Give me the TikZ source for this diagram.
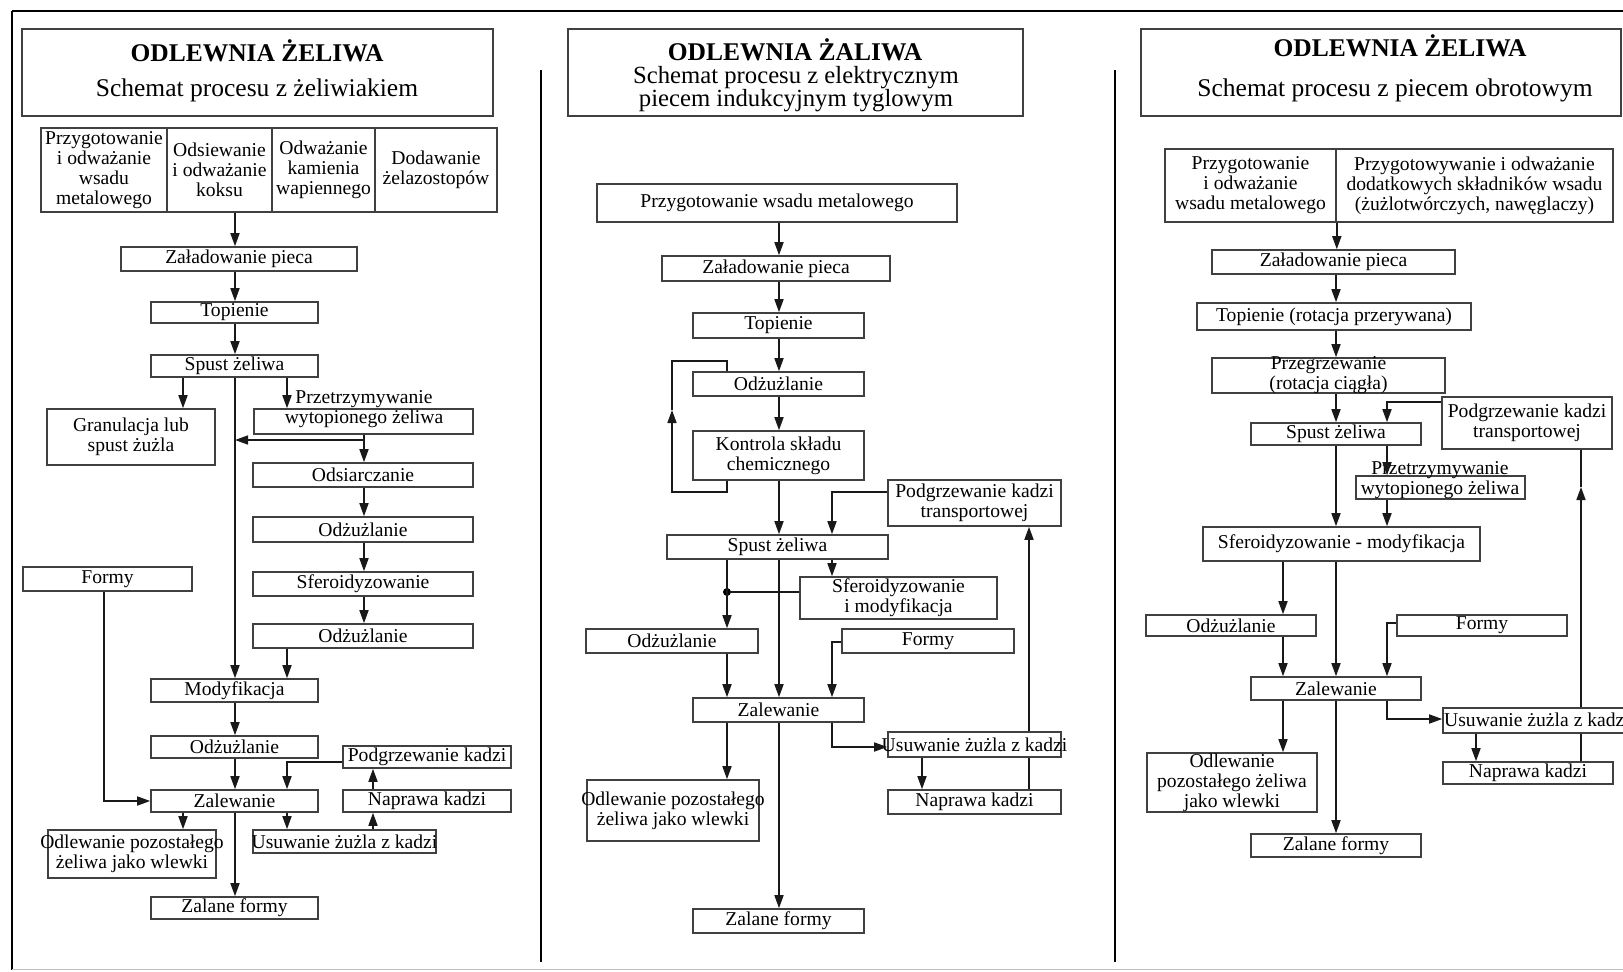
\documentclass[tikz,border=0pt]{standalone}
\usepackage{fontspec}
\setmainfont{Liberation Serif}
\usetikzlibrary{arrows.meta}

% empty framed box from its corners (x1,y1)-(x2,y2)
\newcommand\ebx[5]{\node[box,minimum width={(#4-#2)*1pt},minimum height={(#5-#3)*1pt}] (#1) at ({(#2+#4)/2},{(#3+#5)/2}) {};}
% framed box with centred text
\newcommand\fbx[6]{\ebx{#1}{#2}{#3}{#4}{#5}\node[txt] (#1t) at (#1.center) {#6};}

\begin{document}
\begin{tikzpicture}[x=1pt,y=-1pt,
  box/.style={draw=black!75, line width=1.6pt, fill=white, inner sep=0pt, rectangle},
  txt/.style={inner sep=0pt, align=center, font=\fontsize{19.6}{20}\selectfont},
  ttl/.style={inner sep=0pt, align=center, font=\fontsize{25.5}{27}\selectfont\bfseries},
  sub/.style={inner sep=0pt, align=center, font=\fontsize{25.5}{27}\selectfont},
  subm/.style={inner sep=0pt, align=center, font=\fontsize{24.7}{20.5}\selectfont},
  flow/.style={draw=black!90, line width=1.6pt},
  arr/.style={flow, -{Triangle[length=13pt,width=9pt]}},
  dot/.style={circle, fill=black, inner sep=0pt, minimum size=8pt},
  frame/.style={draw=black, line width=2.6pt}]
\useasboundingbox (0,0) rectangle (1623,972);
\fill[white] (0,0) rectangle (1623,972);

% outer frame and column dividers
\draw[frame] (12,11) -- (1623,11);
\draw[frame] (12,11) -- (12,970);
\draw[draw=black!25, line width=1pt] (12,969) -- (1623,969);
\draw[frame] (541,70) -- (541,962);
\draw[frame] (1115,70) -- (1115,962);

% ===================== cupola furnace =====================
\ebx{Lhead}{22}{29}{493}{116}
\node[ttl] (Lt1) at (257,51) {ODLEWNIA ŻELIWA};
\node[sub] (Lt2) at (257,90) {Schemat procesu z żeliwiakiem};

\fbx{La}{41}{128}{167}{212}{Przygotowanie\\i odważanie\\wsadu\\metalowego}
\fbx{Lb}{167}{128}{272}{212}{Odsiewanie\\i odważanie\\koksu}
\fbx{Lc}{272}{128}{375}{212}{Odważanie\\kamienia\\wapiennego}
\fbx{Ld}{375}{128}{497}{212}{Dodawanie\\żelazostopów}

\fbx{Lzal}{121}{247}{357}{271}{Załadowanie pieca}
\fbx{Ltop}{151}{302}{318}{323}{Topienie}
\fbx{Lspu}{151}{355}{318}{377}{Spust żeliwa}
\fbx{Lgra}{47}{409}{215}{465}{Granulacja lub\\spust żużla}
\ebx{Lprz}{254}{409}{473}{434}
\node[txt] (Lprzt) at (364,409) {Przetrzymywanie\\wytopionego żeliwa};
\fbx{Lods}{253}{463}{473}{487}{Odsiarczanie}
\fbx{Lodz1}{253}{517}{473}{542}{Odżużlanie}
\fbx{Lsfe}{253}{572}{473}{596}{Sferoidyzowanie}
\fbx{Lodz2}{253}{624}{473}{648}{Odżużlanie}
\fbx{Lfor}{23}{567}{192}{591}{Formy}
\fbx{Lmod}{151}{679}{318}{702}{Modyfikacja}
\fbx{Lodz3}{151}{736}{318}{758}{Odżużlanie}
\fbx{Lzlw}{151}{790}{318}{812}{Zalewanie}
\fbx{Lpod}{343}{746}{511}{768}{Podgrzewanie kadzi}
\fbx{Lnap}{343}{790}{511}{812}{Naprawa kadzi}
\fbx{Lusu}{253}{830}{436}{853}{Usuwanie żużla z kadzi}
\fbx{Lodl}{48}{830}{216}{878}{Odlewanie pozostałego\\żeliwa jako wlewki}
\fbx{Lzf}{151}{897}{318}{919}{Zalane formy}

\coordinate (Lj) at (364,440);
\coordinate (Lm) at (235,440);

\draw[arr] (Lb.south -| 235,0) -- (Lzal.north -| 235,0);
\draw[arr] (Lzal.south -| 235,0) -- (Ltop.north -| 235,0);
\draw[arr] (Ltop.south -| 235,0) -- (Lspu.north -| 235,0);
\draw[arr] (Lspu.south -| 183,0) -- (Lgra.north -| 183,0);
\draw[arr] (Lspu.south -| 287,0) -- (Lprz.north -| 287,0);
\draw[arr] (Lspu.south -| 235,0) -- (Lmod.north -| 235,0);
\draw[arr] (Lprz.south -| 364,0) -- (Lods.north -| 364,0);
\draw[arr] (Lj) -- (Lm);
\draw[arr] (Lods.south -| 364,0) -- (Lodz1.north -| 364,0);
\draw[arr] (Lodz1.south -| 364,0) -- (Lsfe.north -| 364,0);
\draw[arr] (Lsfe.south -| 364,0) -- (Lodz2.north -| 364,0);
\draw[arr] (Lodz2.south -| 287,0) -- (Lmod.north -| 287,0);
\draw[arr] (Lmod.south -| 235,0) -- (Lodz3.north -| 235,0);
\draw[arr] (Lodz3.south -| 235,0) -- (Lzlw.north -| 235,0);
\draw[arr] (Lfor.south -| 104,0) |- (Lzlw.west);
\draw[arr] (Lpod.west |- 0,762) -| (Lzlw.north -| 287,0);
\draw[arr] (Lnap.north -| 373,0) -- (Lpod.south -| 373,0);
\draw[arr] (Lusu.north -| 373,0) -- (Lnap.south -| 373,0);
\draw[arr] (Lzlw.south -| 183,0) -- (Lodl.north -| 183,0);
\draw[arr] (Lzlw.south -| 287,0) -- (Lusu.north -| 287,0);
\draw[arr] (Lzlw.south -| 235,0) -- (Lzf.north -| 235,0);

% ===================== induction crucible furnace =====================
\ebx{Mhead}{568}{29}{1023}{116}
\node[ttl] (Mt1) at (795,50) {ODLEWNIA ŻALIWA};
\node[subm] (Mt2) at (796,89) {Schemat procesu z elektrycznym\\piecem indukcyjnym tyglowym};

\fbx{Mprz}{597}{184}{957}{222}{Przygotowanie wsadu metalowego}
\fbx{Mzal}{662}{256}{890}{281}{Załadowanie pieca}
\fbx{Mtop}{693}{313}{864}{338}{Topienie}
\fbx{Modz1}{693}{372}{864}{396}{Odżużlanie}
\fbx{Mkon}{693}{431}{864}{480}{Kontrola składu\\chemicznego}
\fbx{Mspu}{667}{535}{888}{559}{Spust żeliwa}
\fbx{Mpod}{888}{480}{1061}{526}{Podgrzewanie kadzi\\transportowej}
\fbx{Msfe}{800}{577}{997}{619}{Sferoidyzowanie\\i modyfikacja}
\fbx{Modz2}{586}{629}{758}{653}{Odżużlanie}
\fbx{Mfor}{842}{629}{1014}{653}{Formy}
\fbx{Mzlw}{693}{698}{864}{722}{Zalewanie}
\fbx{Modl}{587}{780}{759}{841}{Odlewanie pozostałego\\żeliwa jako wlewki}
\fbx{Musu}{888}{732}{1061}{757}{Usuwanie żużla z kadzi}
\fbx{Mnap}{888}{790}{1061}{814}{Naprawa kadzi}
\fbx{Mzf}{693}{909}{864}{933}{Zalane formy}

\coordinate (Mla) at (672,492);
\coordinate (Mlb) at (672,410);
\coordinate (Mlc) at (672,361);
\node[dot] (Mdot) at (727,592) {};

\draw[arr] (Mprz.south -| 779,0) -- (Mzal.north -| 779,0);
\draw[arr] (Mzal.south -| 779,0) -- (Mtop.north -| 779,0);
\draw[arr] (Mtop.south -| 779,0) -- (Modz1.north -| 779,0);
\draw[arr] (Modz1.south -| 779,0) -- (Mkon.north -| 779,0);
\draw[arr] (Mkon.south -| 779,0) -- (Mspu.north -| 779,0);
\draw[arr] (Mkon.south -| 727,0) |- (Mla) -- (Mlb);
\draw[flow] (Mlb) -- (Mlc) -| (Modz1.north -| 727,0);
\draw[arr] (Mpod.west |- 0,492) -| (Mspu.north -| 832,0);
\draw[arr] (Mspu.south -| 832,0) -- (Msfe.north -| 832,0);
\draw[arr] (Mspu.south -| 727,0) -- (Modz2.north -| 727,0);
\draw[flow] (Mdot) -- (Msfe.west |- Mdot);
\draw[arr] (Mspu.south -| 779,0) -- (Mzlw.north -| 779,0);
\draw[arr] (Mfor.west |- 0,642) -| (Mzlw.north -| 832,0);
\draw[arr] (Modz2.south -| 727,0) -- (Mzlw.north -| 727,0);
\draw[arr] (Mzlw.south -| 727,0) -- (Modl.north -| 727,0);
\draw[arr] (Mzlw.south -| 779,0) -- (Mzf.north -| 779,0);
\draw[arr] (Mzlw.south -| 832,0) |- (Musu.west |- 0,747);
\draw[arr] (Musu.south -| 922,0) -- (Mnap.north -| 922,0);
\draw[flow] (Mnap.north -| 1029,0) -- (Musu.south -| 1029,0);
\draw[arr] (Musu.north -| 1029,0) -- (Mpod.south -| 1029,0);

% ===================== rotary furnace =====================
\ebx{Rhead}{1141}{29}{1621}{116}
\node[ttl] (Rt1) at (1400,46) {ODLEWNIA ŻELIWA};
\node[sub] (Rt2) at (1395,90) {Schemat procesu z piecem obrotowym};

\fbx{Ra}{1165}{149}{1336}{222}{Przygotowanie\\i odważanie\\wsadu metalowego}
\fbx{Rb}{1336}{149}{1613}{222}{Przygotowywanie i odważanie\\dodatkowych składników wsadu\\(żużlotwórczych, nawęglaczy)}
\fbx{Rzal}{1212}{250}{1455}{274}{Załadowanie pieca}
\fbx{Rtop}{1197}{303}{1471}{330}{Topienie (rotacja przerywana)}
\fbx{Rprg}{1212}{358}{1445}{393}{Przegrzewanie\\(rotacja ciągła)}
\fbx{Rspu}{1251}{423}{1421}{445}{Spust żeliwa}
\fbx{Rpod}{1442}{397}{1612}{449}{Podgrzewanie kadzi\\transportowej}
\ebx{Rprz}{1356}{476}{1525}{499}
\node[txt] (Rprzt) at (1440,480) {Przetrzymywanie\\wytopionego żeliwa};
\fbx{Rsfe}{1203}{527}{1480}{561}{Sferoidyzowanie - modyfikacja}
\fbx{Rodz}{1146}{615}{1316}{636}{Odżużlanie}
\fbx{Rfor}{1397}{615}{1567}{636}{Formy}
\fbx{Rzlw}{1251}{677}{1421}{700}{Zalewanie}
\ebx{Rusu}{1443}{708}{1640}{733}
\node[txt, anchor=west] (Rusut) at (1444,720) {Usuwanie żużla z kadzi};
\fbx{Rnap}{1443}{762}{1613}{784}{Naprawa kadzi}
\fbx{Rodl}{1147}{753}{1317}{812}{Odlewanie\\pozostałego żeliwa\\jako wlewki}
\fbx{Rzf}{1251}{834}{1421}{857}{Zalane formy}

\coordinate (Rmid) at (1581,487);

\draw[arr] (Ra.south east) -- (Rzal.north -| Ra.south east);
\draw[arr] (Rzal.south -| 1336,0) -- (Rtop.north -| 1336,0);
\draw[arr] (Rtop.south -| 1336,0) -- (Rprg.north -| 1336,0);
\draw[arr] (Rprg.south -| 1336,0) -- (Rspu.north -| 1336,0);
\draw[arr] (Rpod.west |- 0,402) -| (Rspu.north -| 1387,0);
\draw[arr] (Rspu.south -| 1387,0) -- (Rprz.north -| 1387,0);
\draw[arr] (Rprz.south -| 1387,0) -- (Rsfe.north -| 1387,0);
\draw[arr] (Rspu.south -| 1336,0) -- (Rsfe.north -| 1336,0);
\draw[arr] (Rsfe.south -| 1283,0) -- (Rodz.north -| 1283,0);
\draw[arr] (Rsfe.south -| 1336,0) -- (Rzlw.north -| 1336,0);
\draw[arr] (Rfor.west |- 0,623) -| (Rzlw.north -| 1387,0);
\draw[arr] (Rodz.south -| 1283,0) -- (Rzlw.north -| 1283,0);
\draw[arr] (Rzlw.south -| 1283,0) -- (Rodl.north -| 1283,0);
\draw[arr] (Rzlw.south -| 1336,0) -- (Rzf.north -| 1336,0);
\draw[arr] (Rzlw.south -| 1387,0) |- (Rusu.west |- 0,719);
\draw[arr] (Rusu.south -| 1476,0) -- (Rnap.north -| 1476,0);
\draw[flow] (Rnap.north -| 1581,0) -- (Rusu.south -| 1581,0);
\draw[arr] (Rusu.north -| 1581,0) -- (Rmid);
\draw[flow] (Rmid) -- (Rpod.south -| 1581,0);
\end{tikzpicture}
\end{document}
